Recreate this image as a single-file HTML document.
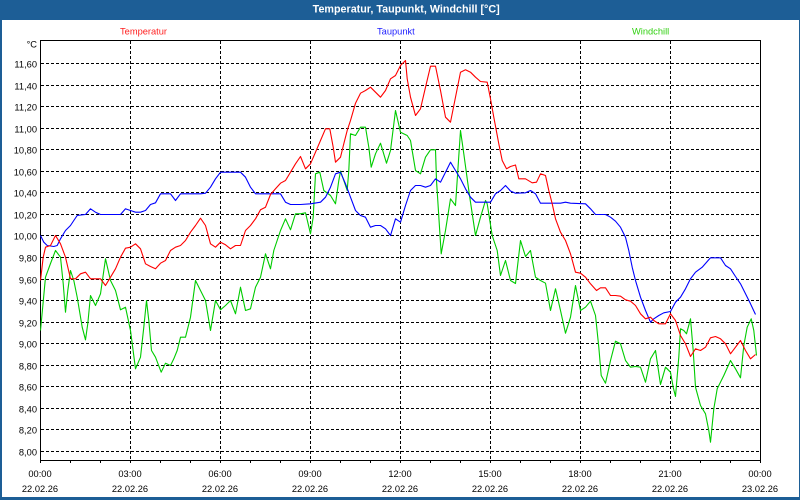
<!DOCTYPE html>
<html><head><meta charset="utf-8"><style>
html,body{margin:0;padding:0;background:#fff;}
body{width:800px;height:500px;overflow:hidden;}
svg{display:block;}
text{font-family:"Liberation Sans",sans-serif;}
</style></head><body>
<svg width="800" height="500" viewBox="0 0 800 500" xmlns="http://www.w3.org/2000/svg">
<rect x="0" y="0" width="800" height="500" fill="#1d5e96"/>
<rect x="2" y="20" width="797" height="477" fill="#ffffff"/>
<text x="312.7" y="12.6" font-size="10.6" font-weight="bold" fill="#ffffff" textLength="187" lengthAdjust="spacingAndGlyphs">Temperatur, Taupunkt, Windchill [°C]</text>
<text x="120" y="34.5" font-size="9.3" fill="#ff2020">Temperatur</text>
<text x="377" y="34.5" font-size="9.3" fill="#2020ff">Taupunkt</text>
<text x="632" y="34.5" font-size="9.3" fill="#30d010">Windchill</text>
<g stroke="#000" stroke-width="1" stroke-dasharray="3,2" shape-rendering="crispEdges" fill="none">
<path d="M41 451.5H760M41 429.5H760M41 408.5H760M41 386.5H760M41 365.5H760M41 343.5H760M41 322.5H760M41 300.5H760M41 279.5H760M41 257.5H760M41 235.5H760M41 214.5H760M41 192.5H760M41 171.5H760M41 149.5H760M41 128.5H760M41 106.5H760M41 85.5H760M41 63.5H760"/>
<path d="M130.5 41V460M220.5 41V460M310.5 41V460M400.5 41V460M490.5 41V460M580.5 41V460M670.5 41V460"/>
</g>
<g stroke="#000" stroke-width="1" shape-rendering="crispEdges" fill="none">
<rect x="40.5" y="40.5" width="720" height="420"/>
<path d="M40.5 460V463M70.5 460V463M100.5 460V463M130.5 460V463M160.5 460V463M190.5 460V463M220.5 460V463M250.5 460V463M280.5 460V463M310.5 460V463M340.5 460V463M370.5 460V463M400.5 460V463M430.5 460V463M460.5 460V463M490.5 460V463M520.5 460V463M550.5 460V463M580.5 460V463M610.5 460V463M640.5 460V463M670.5 460V463M700.5 460V463M730.5 460V463M760.5 460V463"/>
</g>
<g font-size="9.3" fill="#000" text-anchor="end">
<text x="37" y="47.5">°C</text>
<text x="37" y="67.5">11,60</text>
<text x="37" y="89.5">11,40</text>
<text x="37" y="110.5">11,20</text>
<text x="37" y="132.5">11,00</text>
<text x="37" y="153.5">10,80</text>
<text x="37" y="175.5">10,60</text>
<text x="37" y="196.5">10,40</text>
<text x="37" y="218.5">10,20</text>
<text x="37" y="239.5">10,00</text>
<text x="37" y="261.5">9,80</text>
<text x="37" y="283.5">9,60</text>
<text x="37" y="304.5">9,40</text>
<text x="37" y="326.5">9,20</text>
<text x="37" y="347.5">9,00</text>
<text x="37" y="369.5">8,80</text>
<text x="37" y="390.5">8,60</text>
<text x="37" y="412.5">8,40</text>
<text x="37" y="433.5">8,20</text>
<text x="37" y="455.5">8,00</text>
</g>
<g font-size="9.3" fill="#000" text-anchor="middle">
<text x="40" y="477">00:00</text><text x="40" y="492">22.02.26</text>
<text x="130" y="477">03:00</text><text x="130" y="492">22.02.26</text>
<text x="220" y="477">06:00</text><text x="220" y="492">22.02.26</text>
<text x="310" y="477">09:00</text><text x="310" y="492">22.02.26</text>
<text x="400" y="477">12:00</text><text x="400" y="492">22.02.26</text>
<text x="490" y="477">15:00</text><text x="490" y="492">22.02.26</text>
<text x="580" y="477">18:00</text><text x="580" y="492">22.02.26</text>
<text x="670" y="477">21:00</text><text x="670" y="492">22.02.26</text>
<text x="760" y="477">00:00</text><text x="760" y="492">23.02.26</text>
</g>
<g fill="none" stroke-width="1.1" stroke-linejoin="round" transform="translate(0.5,0.5)">
<polyline stroke="#00cc00" points="40,330 45,276.7 50,263 55,250 60,256.7 62.7,283 65,311.7 67.3,290 70,270 73.3,280 76.7,296.7 81.7,326.7 85,339.3 87.3,323 90,295 95,305 100,293.3 105,258.3 110,280 115,290 120,309.3 125,306.7 130,330 135,368.3 140,356.7 143.3,326.7 146,300 148.3,320 151,350 155,356.7 160.7,371.7 165,362.7 170,365 173.3,358.3 176.7,350 180,336.7 185,336.7 190,316.7 195,280 200,290 205,300 210,330 215,300 220,309.3 225,305 230,300 235,313.3 240,286.7 245,310 250,308.3 255,286.7 260,276.7 265,253.3 270,268.3 273.3,250 280,230 285,218.3 290,229.3 295,213.3 300,213.3 305,212.3 310,233.3 312.7,216.7 315,173.3 319.3,171.7 323.3,190 330,195 335,203.3 338.3,180 340,170.7 343.3,180 346.7,190 348.3,170 350,133.3 355,135 360,126.7 365,126.7 368.3,146.7 370.7,166.7 375,153.3 380,142.7 386,162.7 390,150 395,110 400,131.7 406.7,135 410,140 415,170 420,173.3 425,156.7 430,149.3 435,149.3 436,180 440.7,253.3 445,230 450,198.3 455,205 460,130 463.3,153.3 469,195 475,235 480,216.7 485,200 486.7,203.3 491.7,235 496.7,250 500,275 505,260 510,280 515,283 520,240 525,256 530,250 535,276.7 540,280 545,282.7 550,310 555,288.3 560,310 565,332.7 570,316.7 575,285 580,310 585,306.7 590,300.7 595,315 598.3,346.7 600.7,375 605,382.7 610,360 615,340.7 620,343.3 625,360 630,366.7 635,366 640,366.7 645,381.7 650,358.3 655,350 660,384 665,366.7 670,371.7 672.7,386.7 675,396 678.3,356.7 680,328.3 683.3,330 686,333.3 690,318.3 692.7,350 695,386.7 700,405 705,413.3 708.3,430 710,441.7 713.3,408.3 716.7,388.3 723.3,375 730,360 735,368.3 740,377.3 743.3,345 746.7,326.7 750.7,318.3 753.3,330 756,355"/>
<polyline stroke="#0000ff" points="40,235 43.3,241.7 46.7,245 53.3,246 56.7,245 60,238.3 65,230 70,225 73.3,220 76.7,215 81.7,214.3 85,214 90,208.3 95,211.7 100,214 120,214 125,208.3 130,210 135,211.7 140,211.7 145,210 150,204 155,202.3 160,193.3 170,193.3 175,200 180,193.3 200,193.3 205,192.7 210,186.7 215,178.3 220,171.7 225,171.7 240,171.7 245,176.7 250,186.7 255,193.3 273.3,193.3 280,193.3 285,201.7 290,204 300,204 310,203.3 320,201.7 325,196.7 330,186.7 335,173.3 340,171.7 345,183.3 350,196.7 355,210 360,215 365,216.7 370,226.7 375,225 380,225 385,228.3 390,235 395,218.3 400,221.7 405,205 410,190 415,185 420,185 425,186.7 430,185 435,178.3 440,181.7 445,171.7 450,161.7 455,170 460,178.3 465,188.3 470,196.7 475,201.7 490,201.7 495,193.3 500,190 505,185 510,190.5 515,192.7 525,192.3 530,190 535,193.3 540,202.7 560,202.7 565,201.7 570,202.7 585,203.3 590,208.3 595,214 605,214 610,216.7 615,220.7 620,226.7 625,236.7 628.3,250 631.7,266.7 635,280 640,296.7 645,310 650,321.7 653.3,318.3 658.3,315 663.3,312.3 670,311 675,301.7 680,296.7 685,288.3 690,278.3 695,271.7 701.7,266.7 710,257.3 720,257.3 725,265 730,268.3 735,276 740,283.3 745,293.3 750,303.3 755,314"/>
<polyline stroke="#ff0000" points="40,280 42.7,256.7 45,246.7 50,245 55,235 60,243.3 65,256.7 70,278.3 75,278.3 80,273.3 85,271.7 90,278.3 100,278.3 105,285 110,276.7 115,268.3 120,256.7 125,247.7 130,246.7 135,243.3 140,248.3 145,263.3 150,266 155,268.3 160,262.7 165,260 170,250 175,246.7 180,245 185,240 190,231.7 195,225 200,217.7 205,225 210,243.3 215,246.7 220,241.7 225,244.3 230,248.3 235,245 240,245 245,230 250,225 255,218.3 260,209.3 265,206.7 270,194 275,188.3 280,182.7 285,180 290,171.7 295,163.3 300,156 305,168.3 310,163.3 315,151.7 320,140 325,128.3 329.3,128.3 332.7,146.7 335,161.7 340,156.7 343.3,143.3 346.7,130 350,120 355,102.7 360,92.7 365,90 370,86.7 375,91.7 380,96.7 385,90 390,78.3 395,75 400,65 405,60 406.7,78.3 410,96.7 415,115 420,108.3 425,86.7 430,65.7 435,65.7 440,90 445,116.7 450,121.7 455,96.7 460,71.7 465,69.3 470,71.7 475,76.7 480,81 486.7,81.7 490,98.3 493.3,116.7 498.3,143.3 501.7,160 506,168.3 510,166 515,164.5 518.3,178.3 525,178.3 531.7,182.3 536,181.7 540,173.3 545,175 548.3,190 551.7,203.3 555,218.3 560,231.7 565,240 570,253.3 575,271.7 580,272.7 585,276.7 590,283.3 596,290 600,287.3 605,287.3 610,295 615,295 620,295.7 625,299.3 630,300.7 635,305 640,313.3 645,318.3 650,316.7 653.3,320 658.3,323.3 665,323.3 670,313.3 675,320 680,335 685,343.3 690,356 695,348.3 700,350 705,346.7 710,337.3 715,336 720,338.3 725,343.3 730,353.3 735,346.7 740,340 745,350 750,358.3 755,354"/>
</g>
</svg>
</body></html>
